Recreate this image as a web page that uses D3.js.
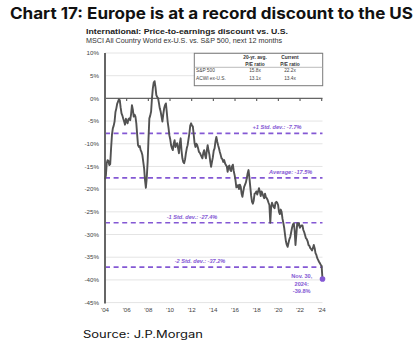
<!DOCTYPE html>
<html><head><meta charset="utf-8">
<script src="https://cdn.jsdelivr.net/npm/d3@7"></script>
<style>body{margin:0;background:#fff}svg{display:block}</style>
</head><body><svg id="c" width="417" height="348"></svg>
<script>
// Monthly P/E discount (%) of MSCI ACWI ex-U.S. vs S&P 500, Jan 2004 -> Nov 2024
const discount = [
-17.8,-17.0,-14.3,-13.6,-13.8,-14.7,-14.5,-11.0,-8.0,-6.6,
-6.0,-5.1,-3.0,-2.2,-1.2,-0.7,-0.2,-0.4,-2.0,-3.3,
-3.8,-4.5,-5.1,-5.8,-4.5,-5.0,-5.5,-4.6,-4.4,
-4.8,-3.5,-1.5,-2.5,-4.0,-3.6,-4.0,-5.5,-8.1,
-10.3,-10.7,-10.5,-11.4,-11.8,-12.5,-14.0,-15.4,-18.0,-19.7,
-17.5,-14.0,-9.0,-4.4,-3.8,-2.9,0.0,2.2,3.5,3.8,
2.5,0.7,0.3,0,-1.0,-2.2,-2.9,-4.0,-5.1,
-3.5,-2.2,-1.5,-1.1,-3.0,-5.1,-6.5,-8.1,-9.0,-10.3,
-11.0,-11.4,-10.0,-9.2,-10.7,-10.0,-9.9,-11.0,-12.1,
-10.0,-8.8,-11.5,-13.2,-14.0,-14.3,-13.5,-12.1,-11.0,-10.3,
-9.0,-7.7,-6.0,-5.5,-6.0,-6.2,-8.0,-9.9,-10.7,
-10.0,-10.3,-11.0,-11.8,-12.0,-12.4,-12.8,-13.2,-12.0,-11.4,
-12.5,-13.2,-11.5,-10.3,-11.5,-12.4,-14.0,-15.1,-14.0,-13.0,
-11.5,-11.0,-9.5,-8.5,-9.5,-10.3,-11.0,-11.8,-12.5,-13.2,
-13.4,-14.0,-13.6,-14.3,-14.7,-15.0,-16.2,-15.0,-14.8,
-15.8,-16.0,-15.0,-14.6,-16.0,-16.9,-18.0,-19.6,-19.5,-19.1,
-20.0,-19.0,-19.5,-21.0,-21.7,-20.5,-19.5,-19.0,-18.5,
-17.6,-16.5,-15.8,-17.5,-19.5,-21.5,-22.8,-23.2,-22.5,-21.0,
-20.9,-20.5,-21.2,-20.5,-19.8,-20.5,-21.5,-20.5,-21.0,-21.5,
-22.0,-21.0,-21.8,-22.0,-22.4,-23.0,-23.5,-27.4,-24.0,
-23.0,-23.5,-24.0,-24.2,-23.0,-22.8,-23.0,-23.5,-25.0,-25.5,
-24.5,-25.0,-26.5,-27.5,-28.5,-30.1,-31.5,-32.3,-32.7,-31.8,
-31.0,-30.5,-29.5,-28.5,-27.8,-27.5,-29.0,-32.3,-30.0,-27.5,
-28.0,-27.5,-28.5,-28.2,-28.0,-28.0,-29.0,-29.5,-30.1,-30.8,
-31.0,-31.5,-32.3,-32.5,-33.0,-33.2,-33.5,-33.0,-32.3,-33.0,
-34.1,-34.5,-35.2,-35.6,-36.0,-36.3,-36.7,-36.9,-39.8
];
const startDate = new Date(2004, 0, 1);
const yTicks = [10,5,0,-5,-10,-15,-20,-25,-30,-35,-40,-45];
const xTickLabels = ["'04","'06","'08","'10","'12","'14","'16","'18","'20","'22","'24"];
const bandValues = [-7.7,-17.5,-27.4,-37.2];
const bandLabels = ["+1 Std. dev.: -7.7%","Average: -17.5%","-1 Std. dev.: -27.4%","-2 Std. dev.: -37.2%"];
const tableHeader1 = ["20-yr. avg.","Current"];
const tableHeader2 = ["P/E ratio","P/E ratio"];
const tableRows = ["S&P 500","ACWI ex-U.S."];
const tableAvg = ["15.8x","13.1x"];
const tableCurrent = ["22.2x","13.4x"];
const lastLabel = ["Nov. 30,","2024:","-39.8%"];

const svg = d3.select("#c");
const purple = "#8458d4";
const L = 105, R = 322.5, T = 53, B = 302.6;

const dates = discount.map((v,i) => d3.timeMonth.offset(startDate, i));
const data = discount.map((v,i) => ({d: dates[i], v}));

const x = d3.scaleTime().domain([dates[0], dates[dates.length-1]]).range([L, R]);
const xp = d3.scalePoint().domain(xTickLabels).range([L, R - 0.8]);
const y = d3.scaleLinear().domain([10,-45]).range([T, B]);

// Title
svg.append("text").attr("x",10).attr("y",19)
  .attr("font-family","Inter, 'Open Sans', sans-serif").attr("font-weight",700)
  .attr("font-size",15.5).attr("fill","#111")
  .attr("textLength",403).attr("lengthAdjust","spacingAndGlyphs")
  .text("Chart 17: Europe is at a record discount to the US");

svg.append("text").attr("x",86).attr("y",33.5)
  .attr("font-family","'Liberation Sans', Arial, sans-serif").attr("font-weight",700)
  .attr("font-size",7.6).attr("fill","#222")
  .attr("textLength",202).attr("lengthAdjust","spacingAndGlyphs")
  .text("International: Price-to-earnings discount vs. U.S.");
svg.append("text").attr("x",86).attr("y",42.6)
  .attr("font-family","'Liberation Sans', Arial, sans-serif")
  .attr("font-size",6.8).attr("fill","#333")
  .attr("textLength",196).attr("lengthAdjust","spacingAndGlyphs")
  .text("MSCI All Country World ex-U.S. vs. S&P 500, next 12 months");

// Gridlines
svg.append("g").selectAll("line").data(yTicks).join("line")
  .attr("x1",L).attr("x2",R).attr("y1",d=>y(d)).attr("y2",d=>y(d))
  .attr("stroke","#e4e4e4").attr("stroke-width",1);

// Y labels
svg.append("g").selectAll("text").data(yTicks).join("text")
  .attr("x",99).attr("y",d=>y(d)+2.2).attr("text-anchor","end")
  .attr("font-family","'Liberation Sans', Arial, sans-serif").attr("font-size",6.2)
  .attr("fill","#444").text(d=>d+"%");

// X labels
svg.append("g").selectAll("text").data(xTickLabels).join("text")
  .attr("x",d=>xp(d)).attr("y",312).attr("text-anchor","middle")
  .attr("font-family","'Liberation Sans', Arial, sans-serif").attr("font-size",6.2)
  .attr("fill","#444").text(d=>d);

// Zero line + ticks
svg.append("line").attr("x1",L).attr("x2",R).attr("y1",y(0)).attr("y2",y(0))
  .attr("stroke","#666").attr("stroke-width",1.3);
svg.append("g").selectAll("line").data(xTickLabels.slice(1)).join("line")
  .attr("x1",d=>xp(d)).attr("x2",d=>xp(d)).attr("y1",y(0)).attr("y2",y(0)+2.5)
  .attr("stroke","#555").attr("stroke-width",1.1);

// Std dev lines
svg.append("g").selectAll("line").data(bandValues).join("line")
  .attr("x1",L).attr("x2",R).attr("y1",d=>y(d)).attr("y2",d=>y(d))
  .attr("stroke",purple).attr("stroke-width",1.7).attr("stroke-dasharray","5,3.6");

const bandLabelX = [277, 290.7, 192, 200];
svg.append("g").selectAll("text").data(bandLabels).join("text")
  .attr("x",(d,i)=>bandLabelX[i]).attr("y",(d,i)=>y(bandValues[i])-4)
  .attr("text-anchor","middle")
  .attr("font-family","'Liberation Sans', Arial, sans-serif").attr("font-size",5.6)
  .attr("font-style","italic").attr("font-weight",700).attr("fill",purple).text(d=>d);

// Left axis
svg.append("line").attr("x1",L).attr("x2",L).attr("y1",T).attr("y2",B+1)
  .attr("stroke","#666").attr("stroke-width",2);

// Table
const tb = svg.append("g");
tb.append("rect").attr("x",194.3).attr("y",53.3).attr("width",128.4).attr("height",32.4)
  .attr("fill","#fff").attr("stroke","#7a7a7a").attr("stroke-width",1);
tb.append("line").attr("x1",194.3).attr("x2",322.7).attr("y1",67.3).attr("y2",67.3)
  .attr("stroke","#aaa").attr("stroke-width",0.8);
const colX = [255, 290];
const tfont = "'Liberation Sans', Arial, sans-serif";
tableHeader1.forEach((t,i)=>tb.append("text").attr("x",colX[i]).attr("y",59)
  .attr("text-anchor","middle").attr("font-family",tfont).attr("font-size",4.8)
  .attr("font-weight",700).attr("fill","#333").text(t));
tableHeader2.forEach((t,i)=>tb.append("text").attr("x",colX[i]).attr("y",65.6)
  .attr("text-anchor","middle").attr("font-family",tfont).attr("font-size",4.8)
  .attr("font-weight",700).attr("fill","#333").text(t));
tableRows.forEach((t,i)=>{
  const yy = 72.4 + i*7.6;
  tb.append("text").attr("x",196).attr("y",yy).attr("font-family",tfont)
    .attr("font-size",4.8).attr("fill","#444").text(t);
  tb.append("text").attr("x",colX[0]).attr("y",yy).attr("text-anchor","middle")
    .attr("font-family",tfont).attr("font-size",4.8).attr("fill","#444").text(tableAvg[i]);
  tb.append("text").attr("x",colX[1]).attr("y",yy).attr("text-anchor","middle")
    .attr("font-family",tfont).attr("font-size",4.8).attr("fill","#444").text(tableCurrent[i]);
});

// Line
svg.append("path").datum(data)
  .attr("d", d3.line().x(d=>x(d.d)).y(d=>y(d.v)))
  .attr("fill","none").attr("stroke","#525252").attr("stroke-width",1.9)
  .attr("stroke-linejoin","round");

// Last point
const last = data[data.length-1];
svg.append("circle").attr("cx",x(last.d)).attr("cy",y(last.v)).attr("r",2.8).attr("fill",purple);
svg.append("g").selectAll("text").data(lastLabel).join("text")
  .attr("x",301.7).attr("y",(d,i)=>278.2 + i*7.3).attr("text-anchor","middle")
  .attr("font-family",tfont).attr("font-size",5.6).attr("font-weight",700)
  .attr("fill",purple).text(d=>d);

// Source
svg.append("text").attr("x",83).attr("y",338.3)
  .attr("font-family","Inter, 'Open Sans', sans-serif").attr("font-size",10)
  .attr("fill","#111").attr("textLength",120).attr("lengthAdjust","spacingAndGlyphs")
  .text("Source: J.P.Morgan");
</script></body></html>
